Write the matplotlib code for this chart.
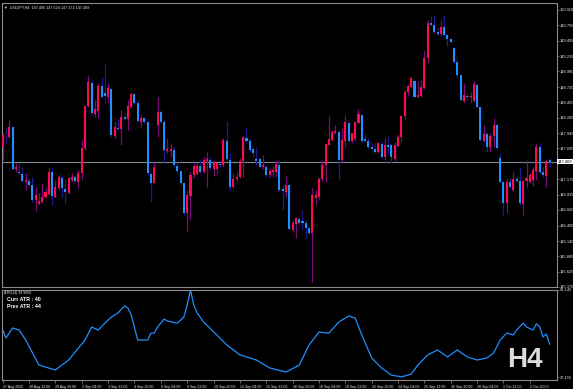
import matplotlib
matplotlib.use("Agg")
import matplotlib.pyplot as plt

# USDJPY H4 candles, 27 Aug 2025 04:00 .. 3 Oct 2025 20:00
opens = [147.721, 147.905, 147.877, 148.044, 147.341, 147.302, 147.263, 147.134, 147.151, 147.079,
         146.827, 146.760, 146.799, 146.883, 146.928, 147.302, 146.883, 147.023, 147.201, 147.006,
         146.950, 147.162, 147.207, 147.134, 147.274, 147.693, 148.402, 148.793, 148.268, 148.324,
         148.737, 148.614, 148.558, 148.681, 147.899, 148.028, 148.011, 148.212, 148.178, 148.391,
         148.603, 148.447, 148.139, 148.195, 148.139, 147.263, 147.117, 148.084, 148.307, 148.139,
         147.654, 147.654, 147.665, 147.397, 147.319, 147.106, 146.604, 146.900, 147.246, 147.263,
         147.397, 147.302, 147.486, 147.497, 147.341, 147.341, 147.430, 147.408, 147.821, 147.497,
         147.039, 147.173, 147.207, 147.486, 147.860, 147.821, 147.676, 147.520, 147.520, 147.374,
         147.374, 147.246, 147.302, 147.302, 147.414, 147.006, 146.967, 147.079, 146.325, 146.425,
         146.514, 146.470, 146.436, 146.353, 146.269, 146.855, 146.883, 147.173, 147.414, 147.749,
         147.832, 147.955, 147.972, 147.497, 147.821, 148.123, 147.821, 147.843, 148.123, 148.257,
         147.843, 147.821, 147.721, 147.676, 147.637, 147.765, 147.542, 147.749, 147.749, 147.508,
         147.732, 147.877, 148.234, 148.642, 148.726, 148.826, 148.547, 148.569, 148.698, 149.200,
         149.787, 149.759, 149.647, 149.608, 149.720, 149.591, 149.519, 149.368, 149.144, 148.921,
         148.491, 148.569, 148.547, 148.491, 148.754, 148.380, 147.821, 147.933, 147.721, 147.899,
         148.078, 147.525, 147.134, 146.771, 147.134, 146.995, 147.173, 147.151, 146.760, 147.151,
         147.134, 147.162, 147.319, 147.709, 147.302, 147.235, 147.495]
highs = [147.944, 148.028, 148.167, 148.044, 147.441, 147.441, 147.386, 147.274, 147.190, 147.218,
         147.050, 146.939, 147.106, 147.023, 147.386, 147.358, 147.162, 147.246, 147.246, 147.162,
         147.218, 147.274, 147.246, 147.330, 147.832, 148.419, 148.921, 148.837, 148.502, 148.782,
         148.893, 149.105, 148.782, 148.698, 148.139, 148.195, 148.335, 148.279, 148.502, 148.642,
         148.625, 148.502, 148.251, 148.223, 148.139, 147.274, 147.469, 148.558, 148.335, 148.167,
         147.860, 147.776, 147.721, 147.469, 147.330, 147.134, 146.995, 147.302, 147.441, 147.469,
         147.497, 147.553, 147.637, 147.553, 147.497, 147.441, 147.453, 147.860, 148.156, 147.609,
         147.274, 147.302, 147.525, 147.899, 148.044, 147.860, 147.721, 147.721, 147.553, 147.581,
         147.414, 147.358, 147.397, 147.497, 147.497, 147.079, 147.229, 147.106, 146.492, 146.548,
         146.548, 146.660, 146.492, 146.380, 147.023, 146.995, 147.218, 147.497, 147.776, 148.234,
         148.000, 148.084, 148.000, 148.028, 148.251, 148.139, 147.955, 148.156, 148.346, 148.268,
         147.933, 147.860, 147.776, 147.776, 147.804, 147.821, 147.860, 147.899, 147.776, 147.804,
         147.933, 148.251, 148.670, 148.770, 148.893, 148.837, 148.826, 148.837, 149.340, 149.842,
         149.909, 149.926, 149.703, 149.842, 149.926, 149.608, 149.535, 149.396, 149.172, 148.938,
         148.782, 148.603, 148.642, 148.826, 148.770, 148.391, 148.084, 147.972, 147.944, 148.195,
         148.100, 147.620, 147.151, 147.190, 147.190, 147.302, 147.218, 147.358, 147.162, 147.497,
         147.274, 147.386, 147.776, 147.788, 147.386, 147.508, 147.524]
lows = [147.497, 147.776, 147.860, 147.330, 147.302, 147.246, 147.134, 146.995, 147.050, 146.799,
        146.648, 146.743, 146.771, 146.855, 146.911, 146.743, 146.855, 146.995, 146.883, 146.760,
        146.928, 147.134, 147.134, 147.023, 147.162, 147.665, 148.391, 148.251, 148.223, 148.195,
        148.530, 148.447, 148.447, 147.888, 147.860, 148.000, 147.749, 148.167, 148.000, 148.363,
        148.435, 148.139, 148.056, 148.123, 147.246, 146.799, 147.106, 147.888, 148.111, 147.469,
        147.609, 147.553, 147.386, 147.274, 147.079, 146.576, 146.297, 146.492, 147.190, 147.246,
        147.274, 147.274, 147.050, 147.330, 147.229, 147.263, 147.386, 147.386, 147.486, 146.995,
        147.023, 147.151, 147.190, 147.218, 147.804, 147.637, 147.553, 147.414, 147.358, 147.341,
        147.218, 147.218, 147.218, 147.218, 146.967, 146.660, 146.883, 146.325, 146.297, 146.185,
        146.408, 146.325, 146.185, 146.258, 145.459, 146.743, 146.827, 147.151, 147.134, 147.749,
        147.821, 147.933, 147.162, 147.469, 147.721, 147.804, 147.788, 147.821, 148.111, 147.804,
        147.804, 147.693, 147.665, 147.609, 147.609, 147.525, 147.497, 147.609, 147.453, 147.486,
        147.721, 147.804, 148.178, 148.569, 148.698, 148.547, 148.530, 148.558, 148.681, 149.117,
        149.742, 149.630, 149.591, 149.574, 149.574, 149.407, 149.463, 149.117, 148.893, 148.491,
        148.447, 148.502, 148.474, 148.474, 148.363, 147.821, 147.804, 147.637, 147.637, 147.709,
        147.676, 147.106, 146.576, 146.604, 147.023, 146.967, 147.134, 146.743, 146.576, 147.023,
        147.106, 147.062, 147.162, 147.285, 147.218, 147.050, 147.372]
closes = [147.916, 147.894, 148.044, 147.341, 147.374, 147.274, 147.151, 147.162, 147.079, 146.827,
          146.911, 146.816, 146.883, 146.967, 147.302, 146.894, 147.039, 147.207, 147.023, 146.967,
          147.190, 147.218, 147.151, 147.285, 147.704, 148.402, 148.798, 148.279, 148.346, 148.737,
          148.558, 148.569, 148.698, 147.916, 148.044, 148.011, 148.223, 148.190, 148.402, 148.603,
          148.458, 148.156, 148.195, 148.139, 147.274, 147.117, 147.386, 148.307, 148.139, 147.665,
          147.687, 147.676, 147.414, 147.319, 147.106, 146.604, 146.905, 147.246, 147.397, 147.397,
          147.302, 147.497, 147.508, 147.358, 147.441, 147.441, 147.408, 147.832, 147.508, 147.039,
          147.173, 147.218, 147.486, 147.877, 147.821, 147.665, 147.609, 147.486, 147.386, 147.414,
          147.246, 147.319, 147.330, 147.430, 146.995, 146.984, 147.079, 146.336, 146.436, 146.520,
          146.436, 146.436, 146.353, 146.280, 146.911, 146.911, 147.173, 147.414, 147.765, 147.843,
          147.972, 147.989, 147.497, 147.832, 148.139, 147.821, 147.944, 148.139, 148.268, 147.821,
          147.821, 147.721, 147.676, 147.637, 147.776, 147.553, 147.749, 147.721, 147.553, 147.749,
          147.888, 148.234, 148.642, 148.737, 148.865, 148.558, 148.586, 148.715, 149.200, 149.798,
          149.759, 149.647, 149.608, 149.720, 149.591, 149.519, 149.480, 149.144, 148.921, 148.502,
          148.586, 148.547, 148.569, 148.770, 148.380, 147.832, 147.933, 147.721, 147.899, 148.084,
          147.693, 147.134, 146.782, 147.134, 147.050, 147.173, 147.151, 146.771, 147.151, 147.190,
          147.246, 147.330, 147.709, 147.302, 147.246, 147.486, 147.469]

# ATR(14) line, sampled at bar index
atr_bar = [0, 1, 3, 5, 7, 11, 16, 20, 25, 27, 29, 31, 33, 35, 37, 38, 39, 41, 44, 45, 46, 47, 49, 50,
           53, 55, 56, 57, 58, 59, 61, 65, 68, 72, 77, 81, 86, 90, 93, 96, 99, 102, 105, 107, 109,
           112, 115, 118, 121, 124, 126, 129, 132, 135, 138, 141, 144, 147, 149, 151, 153, 155, 156,
           158, 159, 161, 162, 163, 164, 165, 166]
atr_val = [45.5, 42.4, 46.3, 45.5, 41.6, 31.8, 29.9, 33.8, 41.6, 46.7, 45.5, 48.2, 50.6, 52.2, 54.9,
           54.1, 51.4, 41.6, 41.6, 44.3, 44.3, 46.7, 49.8, 49.0, 48.2, 50.6, 55.3, 61.1, 55.3, 52.2,
           48.6, 43.6, 39.7, 35.8, 33.8, 30.7, 29.1, 31.8, 39.7, 44.7, 44.3, 48.6, 51.0, 50.2, 43.6,
           34.6, 30.7, 27.9, 27.2, 28.3, 31.8, 35.8, 37.7, 35.0, 37.7, 35.0, 33.8, 34.6, 36.5, 41.6,
           44.3, 43.6, 45.5, 48.2, 46.7, 45.5, 47.9, 46.7, 42.8, 44.0, 40.0]

price_ticks = [150.010, 149.755, 149.495, 149.235, 148.980, 148.720, 148.465, 148.205, 147.945,
               147.690, 147.175, 146.915, 146.660, 146.400, 146.140, 145.885, 145.625, 145.370]
time_labels = ["27 Aug 2025", "28 Aug 12:00", "29 Aug 20:00", "2 Sep 04:00", "3 Sep 12:00",
               "4 Sep 20:00", "8 Sep 04:00", "9 Sep 12:00", "10 Sep 20:00", "12 Sep 04:00",
               "15 Sep 12:00", "16 Sep 20:00", "18 Sep 04:00", "19 Sep 12:00", "22 Sep 20:00",
               "24 Sep 04:00", "25 Sep 12:00", "26 Sep 20:00", "30 Sep 04:00", "1 Oct 12:00",
               "2 Oct 20:00"]

W, H = 573, 389
BULL = "#ff0a50"
BEAR = "#1e90ff"
BULL_WICK = "#7a0a78"
BEAR_WICK = "#1c1c8a"
FRAME = "#8c8c8c"
TXT = "#e8e8e8"
SMALL = ["Liberation Sans", "DejaVu Sans"]

plt.rcParams["font.family"] = SMALL

fig = plt.figure(figsize=(W / 100, H / 100), dpi=100, facecolor="black")


def px_axes(x0, y0, x1, y1):
    return fig.add_axes([x0 / W, 1 - y1 / H, (x1 - x0) / W, (y1 - y0) / H], facecolor="black")


ax = px_axes(2, 3, 556.5, 287)
ax2 = px_axes(2, 289.5, 556.5, 379.5)

n = len(closes)
xs = list(range(n))
xlim = (-0.21, 168.1)

# candles
for i in xs:
    o, h, l, c = opens[i], highs[i], lows[i], closes[i]
    up = c >= o
    ax.vlines(i, l, h, color=BULL_WICK if up else BEAR_WICK, linewidth=0.9, zorder=2)
    lo = min(o, c)
    ht = max(abs(c - o), 0.012)
    ax.bar(i, ht, bottom=lo, width=0.62, color=BULL if up else BEAR, linewidth=0, zorder=3)

last = closes[-1]
ax.axhline(last, color="#7d8a95", linewidth=0.8, zorder=1)

ax.set_xlim(*xlim)
ax.set_ylim(145.370, 150.127)
ax.yaxis.tick_right()
ax.set_yticks(price_ticks)
ax.set_yticklabels([f"{v:.3f}" for v in price_ticks])
ax.tick_params(axis="y", colors=FRAME, labelcolor=TXT, labelsize=2.9, length=1.5, width=0.5, pad=0.8)
ax.set_xticks([])
for s in ax.spines.values():
    s.set_color(FRAME)
    s.set_linewidth(0.8)

ax.text(1.002, last, f"{last:.3f}", transform=ax.get_yaxis_transform(), fontsize=2.9,
        color="black", va="center", ha="left",
        bbox=dict(boxstyle="square,pad=0.2", facecolor="white", edgecolor="none"))
ax.text(0.003, 0.99, "\u25bc  USDJPY,H4  147.495 147.524 147.372 147.469", transform=ax.transAxes,
        fontsize=2.7, color=TXT, va="top", ha="left")

# ATR panel
ax2.plot(atr_bar, atr_val, color="#1f8fff", linewidth=0.9)
ax2.set_xlim(*xlim)
ax2.set_ylim(26.18, 61.34)
ax2.yaxis.tick_right()
ax2.set_yticks([61.145, 27.155])
ax2.set_yticklabels(["61.145", "27.155"])
ax2.tick_params(axis="y", colors=FRAME, labelcolor=TXT, labelsize=2.9, length=1.5, width=0.5, pad=0.8)
tick_pos = [8 * k for k in range(len(time_labels))]
ax2.set_xticks(tick_pos)
ax2.set_xticklabels(time_labels, ha="left")
ax2.tick_params(axis="x", colors=FRAME, labelcolor=TXT, labelsize=2.6, length=2.5, width=0.5, pad=1.2)
for s in ax2.spines.values():
    s.set_color(FRAME)
    s.set_linewidth(0.8)

ax2.text(0.004, 0.985, "ATR(14) 39.9000", transform=ax2.transAxes, fontsize=2.6, color=TXT,
         va="top", ha="left")
ax2.text(0.009, 0.92, "Curr ATR : 40", transform=ax2.transAxes, fontsize=3.8, color="white",
         va="top", ha="left", fontweight="bold")
ax2.text(0.009, 0.84, "Prev ATR : 44", transform=ax2.transAxes, fontsize=3.8, color="white",
         va="top", ha="left", fontweight="bold")
ax2.text(0.975, 0.07, "H4", transform=ax2.transAxes, fontsize=20, color="#dcdcdc",
         va="bottom", ha="right", fontweight="bold")

fig.savefig("out.png", dpi=100, facecolor="black")
